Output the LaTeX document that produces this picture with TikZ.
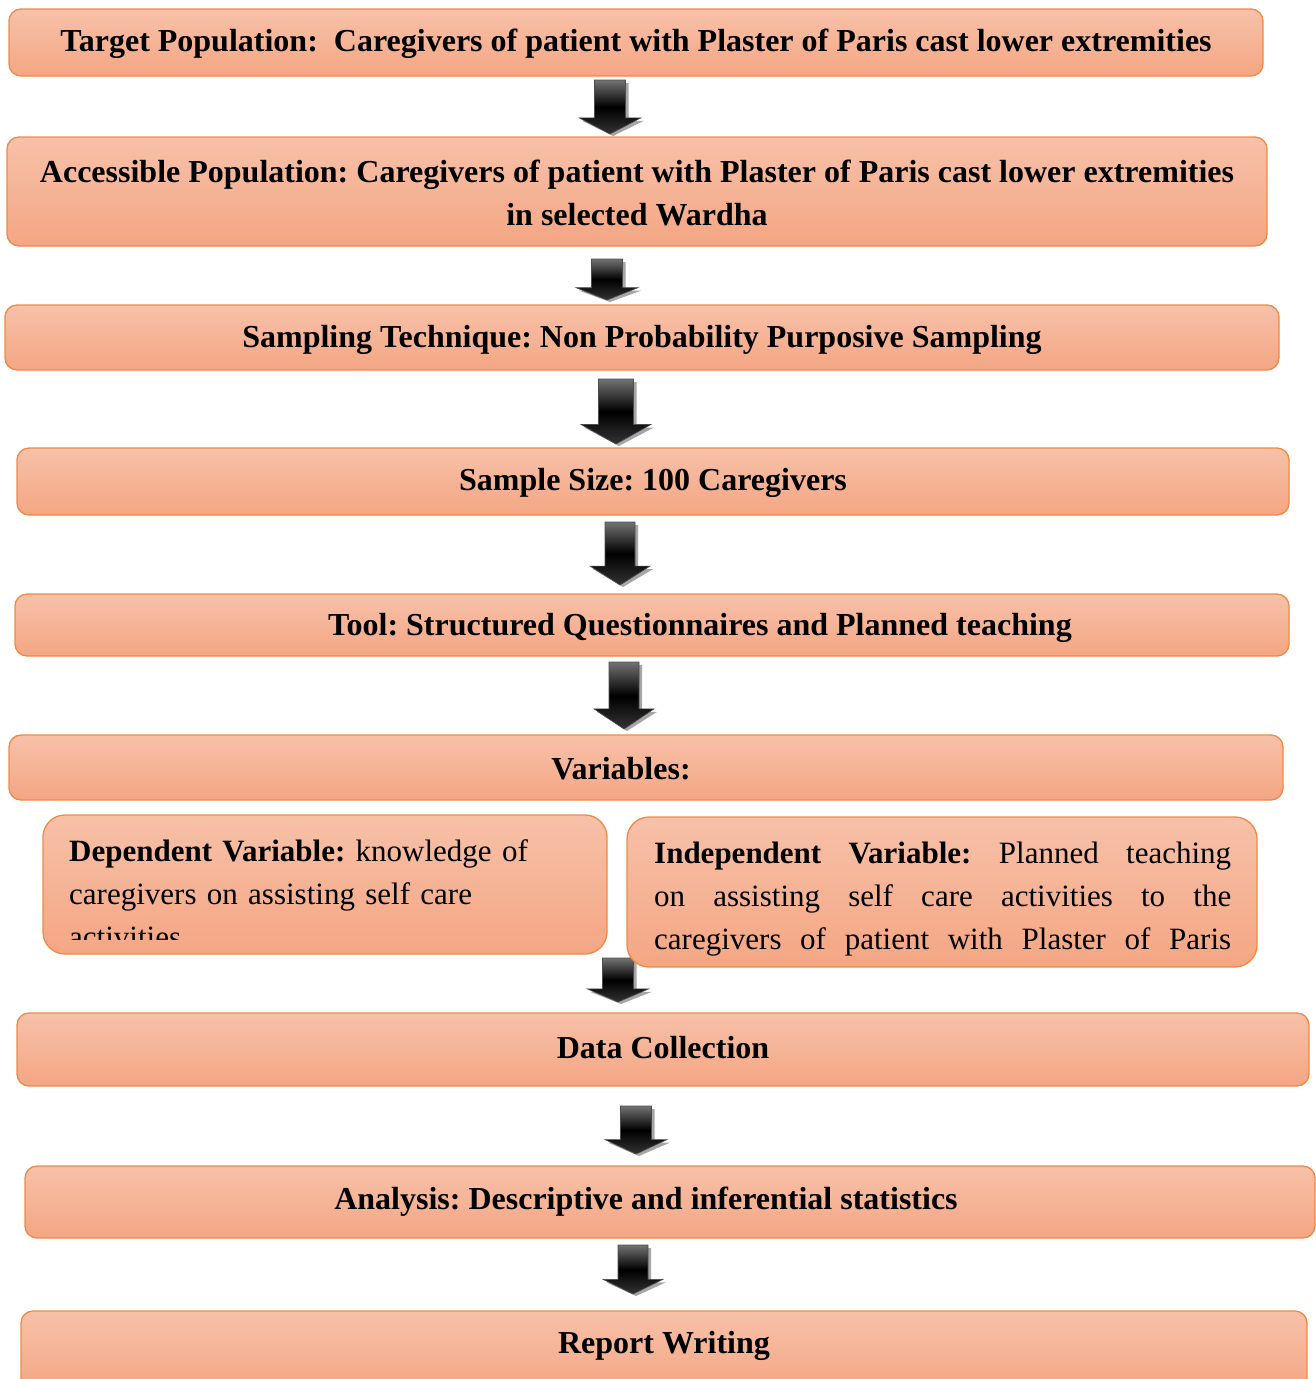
\documentclass[tikz,border=0pt]{standalone}
\usepackage{fontspec}
\setmainfont{Liberation Serif}
\frenchspacing
\definecolor{boxtop}{HTML}{F7C1A9}
\definecolor{boxbot}{HTML}{F4A683}
\definecolor{boxline}{HTML}{EF8A45}
\tikzset{
  box/.style={rounded corners=12pt, draw=boxline, line width=1.3pt,
    top color=boxtop, bottom color=boxbot, inner sep=0pt},
  varbox/.style={box, rounded corners=22pt},
  boxtext/.style={font=\fontsize{32}{43}\selectfont\bfseries, align=center},
  vartext/.style={font=\fontsize{31}{43}\selectfont, inner sep=0pt, anchor=north west},
  arrowfill/.style={top color=black!55, bottom color=black!80, middle color=black, draw=black!70, line width=0.6pt},
  arrowshadow/.style={fill=black!35}
}
\newcommand{\blockarrow}[4]{% #1 cx, #2 ytop, #3 ybot, #4 head half width
  \path[arrowshadow] ({#1-#4/2+3},{#2+3}) -- ({#1+#4/2+3},{#2+3}) -- ({#1+#4/2+3},{#3-0.3*(#3-#2)+3}) -- ({#1+#4+3},{#3-0.3*(#3-#2)+3}) -- ({#1+3},{#3+2}) -- ({#1-#4+3},{#3-0.3*(#3-#2)+3}) -- ({#1-#4/2+3},{#3-0.3*(#3-#2)+3}) -- cycle;
  \path[arrowfill] ({#1-#4/2},#2) -- ({#1+#4/2},#2) -- ({#1+#4/2},{#3-0.3*(#3-#2)}) -- ({#1+#4},{#3-0.3*(#3-#2)}) -- (#1,#3) -- ({#1-#4},{#3-0.3*(#3-#2)}) -- ({#1-#4/2},{#3-0.3*(#3-#2)}) -- cycle;
}
\begin{document}
\begin{tikzpicture}[x=1pt,y=-1pt]
\useasboundingbox (0,0) rectangle (1316,1379);
\clip (0,0) rectangle (1316,1379);
% arrows
\blockarrow{610}{80}{134}{31}
\blockarrow{607}{259}{300}{31}
\blockarrow{616}{379}{444}{35}
\blockarrow{620}{522}{585}{30}
\blockarrow{624}{662}{729}{30}
\blockarrow{618}{958}{1002}{31}
\blockarrow{636}{1106}{1154}{31}
\blockarrow{633}{1245}{1294}{30}
% main boxes
\node[box, minimum width=1254pt, minimum height=67pt] (target) at (636,42.5) {};
\node[boxtext] at (636,44) {Target Population:\ \ Caregivers of patient with Plaster of Paris cast lower extremities};
\node[box, minimum width=1260pt, minimum height=109pt] (access) at (637,191.5) {};
\node[boxtext] at (637,193) {Accessible Population: Caregivers of patient with Plaster of Paris cast lower extremities\\in selected Wardha};
\node[box, minimum width=1274pt, minimum height=65pt] (sampling) at (642,337.5) {};
\node[boxtext] at (642,339.5) {Sampling Technique: Non Probability Purposive Sampling};
\node[box, minimum width=1272pt, minimum height=67pt] (size) at (653,481.5) {};
\node[boxtext] at (653,483) {Sample Size: 100 Caregivers};
\node[box, minimum width=1274pt, minimum height=62pt] (tool) at (652,625) {};
\node[boxtext] at (700,628) {Tool: Structured Questionnaires and Planned teaching};
\node[box, minimum width=1274pt, minimum height=65pt] (vars) at (646,767.5) {};
\node[boxtext] at (621,769) {Variables:};
% variable boxes
\node[varbox, minimum width=564pt, minimum height=139pt] (dep) at (325,884.5) {};
\begin{scope}
  \clip (40,820) rectangle (610,939);
  \node[vartext, text width=525pt, align=left] (deptext) at (69,839.5) {\textbf{Dependent Variable:} knowledge of\\caregivers on assisting self care\\activities};
\end{scope}
\node[varbox, minimum width=630pt, minimum height=150pt] (indep) at (942,892) {};
\node[vartext, text width=577pt, align=justify] (indeptext) at (654,842) {\parfillskip=0pt \textbf{Independent Variable:} Planned teaching\linebreak on assisting self care activities to the\linebreak caregivers of patient with Plaster of Paris\par};
% lower boxes
\node[box, minimum width=1292pt, minimum height=73pt] (data) at (663,1049.5) {};
\node[boxtext] at (663,1048) {Data Collection};
\node[box, minimum width=1290pt, minimum height=72pt] (analysis) at (670,1202) {};
\node[boxtext] at (646,1202) {Analysis: Descriptive and inferential statistics};
\node[box, minimum width=1286pt, minimum height=80pt] (report) at (664,1351) {};
\node[boxtext] at (664,1346) {Report Writing};
\end{tikzpicture}
\end{document}
